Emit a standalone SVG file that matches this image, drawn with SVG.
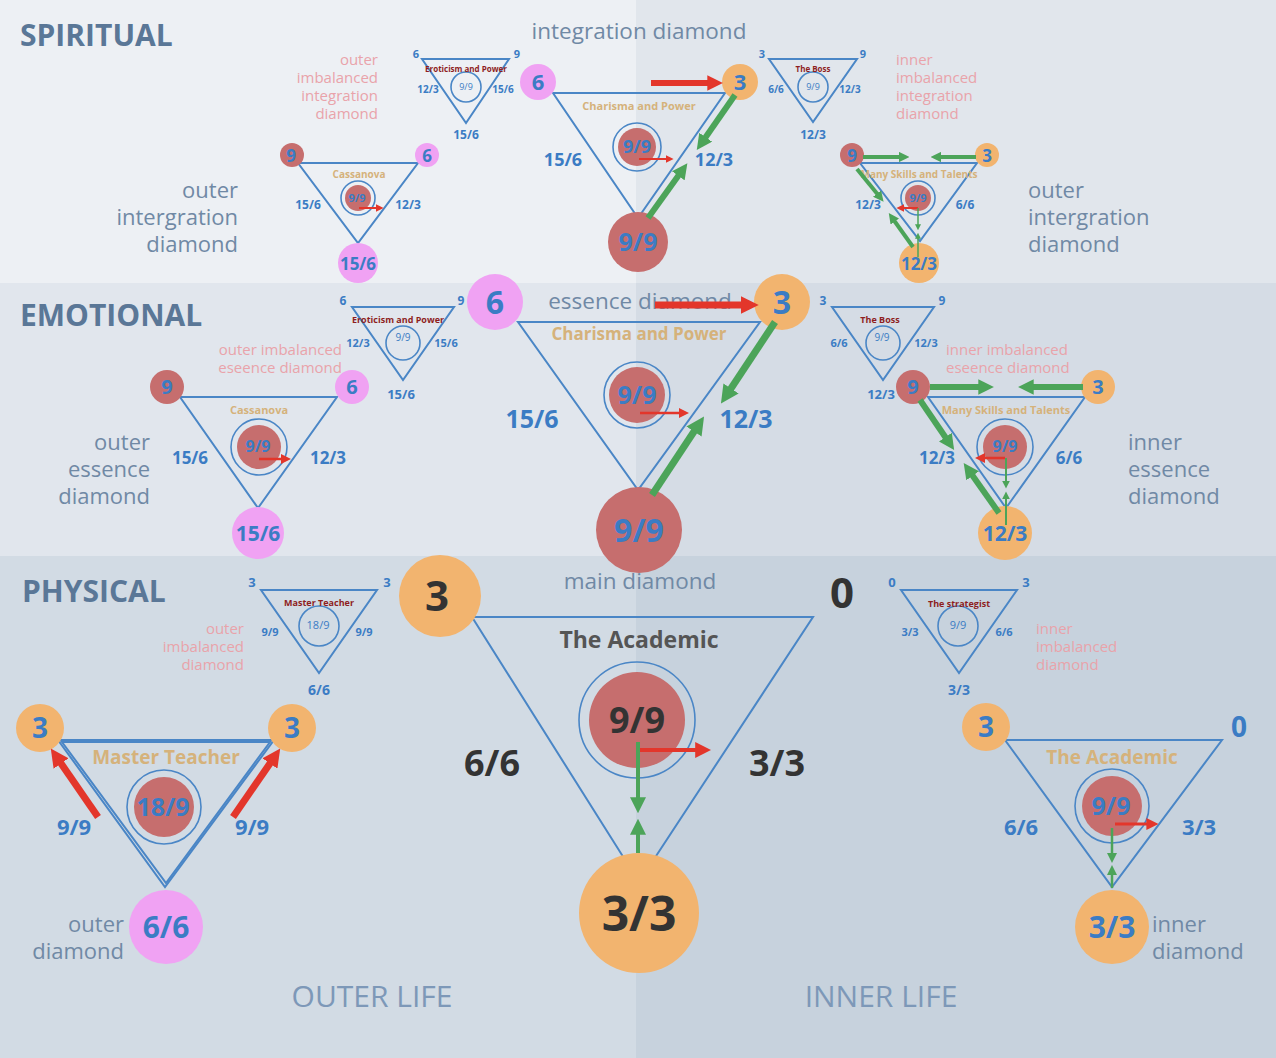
<svg xmlns="http://www.w3.org/2000/svg" width="1276" height="1058" viewBox="0 0 1276 1058">
<defs>
<style>
text{font-family:"Open Sans","Noto Sans","DejaVu Sans",sans-serif}
.sec{font-size:30px;font-weight:700;fill:#5a7797}
.hd{font-size:22.5px;fill:#7089a5;text-anchor:middle}
.side{font-size:22px;fill:#7089a5}
.faded{font-size:15px;fill:#e9a3aa}
.tri{fill:none;stroke:#4a86c6;stroke-width:2}
.ring{fill:none;stroke:#4a86c6;stroke-width:1.6}
.b{fill:#3b7cc4;font-weight:700;text-anchor:middle}
.bl{fill:#3b7cc4;text-anchor:middle}
.dk{fill:#333;font-weight:700;text-anchor:middle}
.tan{fill:#d5b27b;font-weight:700;text-anchor:middle}
.drd{fill:#8e1e1e;font-weight:700;text-anchor:middle}
.red{fill:#c66e6e}
.pink{fill:#f0a2f3}
.org{fill:#f2b46f}
.ra{stroke:#e3362b;fill:none}
.ga{stroke:#4ca459;fill:none}
.life{font-size:30px;fill:#7d98b8;text-anchor:middle}
</style>
<marker id="mr" viewBox="0 0 10 10" refX="3" refY="5" markerWidth="2.6" markerHeight="2.6" orient="auto"><path d="M0,0L10,5L0,10z" fill="#e3362b"/></marker>
<marker id="mrt" viewBox="0 0 10 10" refX="3" refY="5" markerWidth="4" markerHeight="4" orient="auto"><path d="M0,0L10,5L0,10z" fill="#e3362b"/></marker>
<marker id="mg" viewBox="0 0 10 10" refX="3" refY="5" markerWidth="2.6" markerHeight="2.6" orient="auto"><path d="M0,0L10,5L0,10z" fill="#4ca459"/></marker>
<marker id="mgt" viewBox="0 0 10 10" refX="3" refY="5" markerWidth="4" markerHeight="4" orient="auto"><path d="M0,0L10,5L0,10z" fill="#4ca459"/></marker>
</defs>

<!-- backgrounds -->
<g id="background">
<rect x="0" y="0" width="636" height="283" fill="#edf0f4"/>
<rect x="636" y="0" width="640" height="283" fill="#e1e6ec"/>
<rect x="0" y="283" width="636" height="273" fill="#e1e6ed"/>
<rect x="636" y="283" width="640" height="273" fill="#d5dce5"/>
<rect x="0" y="556" width="636" height="502" fill="#d2dbe4"/>
<rect x="636" y="556" width="640" height="502" fill="#c7d2dd"/>
</g>

<g id="labels">
<text class="sec" x="20" y="46">SPIRITUAL</text>
<text class="sec" x="20" y="326">EMOTIONAL</text>
<text class="sec" x="22" y="602">PHYSICAL</text>
<text class="hd" x="639" y="39">integration diamond</text>
<text class="hd" x="640" y="309">essence diamond</text>
<text class="hd" x="640" y="589">main diamond</text>
<g class="faded" text-anchor="end"><text x="378" y="65">outer</text><text x="378" y="83">imbalanced</text><text x="378" y="101">integration</text><text x="378" y="119">diamond</text></g>
<g class="faded"><text x="896" y="65">inner</text><text x="896" y="83">imbalanced</text><text x="896" y="101">integration</text><text x="896" y="119">diamond</text></g>
<g class="faded" text-anchor="end"><text x="342" y="355">outer imbalanced</text><text x="342" y="373">eseence diamond</text></g>
<g class="faded"><text x="946" y="355">inner imbalanced</text><text x="946" y="373">eseence diamond</text></g>
<g class="faded" text-anchor="end"><text x="244" y="634">outer</text><text x="244" y="652">imbalanced</text><text x="244" y="670">diamond</text></g>
<g class="faded"><text x="1036" y="634">inner</text><text x="1036" y="652">imbalanced</text><text x="1036" y="670">diamond</text></g>
<g class="side" text-anchor="end"><text x="238" y="198">outer</text><text x="238" y="225">intergration</text><text x="238" y="252">diamond</text></g>
<g class="side"><text x="1028" y="198">outer</text><text x="1028" y="225">intergration</text><text x="1028" y="252">diamond</text></g>
<g class="side" text-anchor="end"><text x="150" y="450">outer</text><text x="150" y="477">essence</text><text x="150" y="504">diamond</text></g>
<g class="side"><text x="1128" y="450">inner</text><text x="1128" y="477">essence</text><text x="1128" y="504">diamond</text></g>
<g class="side" text-anchor="end"><text x="124" y="932">outer</text><text x="124" y="959">diamond</text></g>
<g class="side"><text x="1152" y="932">inner</text><text x="1152" y="959">diamond</text></g>
<text class="life" x="372" y="1007">OUTER LIFE</text>
<text class="life" x="881" y="1007">INNER LIFE</text>
</g>

<!-- SPIRITUAL small triangles -->
<g id="sp-erot">
<polygon class="tri" points="422,59 509,59 466,123" stroke-width="1.5"/>
<circle class="ring" cx="466" cy="87" r="15"/>
<text class="drd" x="466" y="72" font-size="8">Eroticism and Power</text>
<text class="bl" x="466" y="90" font-size="9">9/9</text>
<g class="b" font-size="11"><text x="416" y="58">6</text><text x="517" y="58">9</text><text x="428" y="93" font-size="10">12/3</text><text x="503" y="93" font-size="10">15/6</text><text x="466" y="139" font-size="12">15/6</text></g>
</g>
<g id="sp-boss">
<polygon class="tri" points="769,59 857,59 813,122" stroke-width="1.5"/>
<circle class="ring" cx="813" cy="87" r="15"/>
<text class="drd" x="813" y="72" font-size="8">The Boss</text>
<text class="bl" x="813" y="90" font-size="9">9/9</text>
<g class="b" font-size="11"><text x="762" y="58">3</text><text x="863" y="58">9</text><text x="776" y="93" font-size="10">6/6</text><text x="850" y="93" font-size="10">12/3</text><text x="813" y="139" font-size="12">12/3</text></g>
</g>

<!-- SPIRITUAL Cassanova -->
<g id="sp-cass">
<polygon class="tri" points="298,163 418,163 358,243"/>
<text class="tan" x="359" y="178" font-size="10">Cassanova</text>
<circle class="ring" cx="358" cy="198" r="17"/>
<circle class="red" cx="358" cy="198" r="13"/>
<text class="b" x="357" y="202" font-size="11">9/9</text>
<text class="b" x="308" y="209" font-size="12">15/6</text>
<text class="b" x="408" y="209" font-size="12">12/3</text>
<circle class="red" cx="292" cy="155" r="12"/>
<text class="b" x="291" y="162" font-size="17">9</text>
<circle class="pink" cx="427" cy="155" r="12"/>
<text class="b" x="427" y="162" font-size="17">6</text>
<circle class="pink" cx="358" cy="263" r="20"/>
<text class="b" x="358" y="270" font-size="17">15/6</text>
</g>

<!-- SPIRITUAL main -->
<g id="sp-main">
<polygon class="tri" points="553,93 725,93 638,218"/>
<text class="tan" x="639" y="110" font-size="11">Charisma and Power</text>
<circle class="ring" cx="637" cy="147" r="24"/>
<circle class="red" cx="637" cy="147" r="19"/>
<text class="b" x="637" y="153" font-size="18">9/9</text>
<text class="b" x="563" y="166" font-size="18">15/6</text>
<text class="b" x="714" y="166" font-size="18">12/3</text>
<circle class="pink" cx="538" cy="82" r="18"/>
<text class="b" x="538" y="90" font-size="22">6</text>
<circle class="org" cx="740" cy="82" r="18"/>
<text class="b" x="740" y="90" font-size="22">3</text>
<circle class="red" cx="638" cy="242" r="30"/>
<text class="b" x="638" y="251" font-size="25">9/9</text>
</g>

<!-- SPIRITUAL Many Skills -->
<g id="sp-many">
<polygon class="tri" points="860,163 977,163 920,241"/>
<text class="tan" x="919" y="178" font-size="10">Many Skills and Talents</text>
<circle class="ring" cx="918" cy="198" r="17"/>
<circle class="red" cx="918" cy="198" r="13"/>
<text class="b" x="918" y="202" font-size="11">9/9</text>
<text class="b" x="868" y="209" font-size="12">12/3</text>
<text class="b" x="965" y="209" font-size="12">6/6</text>
<circle class="red" cx="852" cy="155" r="12"/>
<text class="b" x="852" y="162" font-size="17">9</text>
<circle class="org" cx="987" cy="155" r="12"/>
<text class="b" x="987" y="162" font-size="17">3</text>
<circle class="org" cx="919" cy="263" r="20"/>
<text class="b" x="919" y="270" font-size="17">12/3</text>
</g>

<!-- EMOTIONAL small triangles -->
<g id="em-erot">
<polygon class="tri" points="352,307 454,307 403,380" stroke-width="1.5"/>
<circle class="ring" cx="403" cy="343" r="17"/>
<text class="drd" x="398" y="323" font-size="9">Eroticism and Power</text>
<text class="bl" x="403" y="341" font-size="10">9/9</text>
<g class="b" font-size="12"><text x="343" y="305">6</text><text x="461" y="305">9</text><text x="358" y="347" font-size="11">12/3</text><text x="446" y="347" font-size="11">15/6</text><text x="401" y="399" font-size="13">15/6</text></g>
</g>
<g id="em-boss">
<polygon class="tri" points="832,307 934,307 883,380" stroke-width="1.5"/>
<circle class="ring" cx="883" cy="343" r="17"/>
<text class="drd" x="880" y="323" font-size="9">The Boss</text>
<text class="bl" x="882" y="341" font-size="10">9/9</text>
<g class="b" font-size="12"><text x="823" y="305">3</text><text x="942" y="305">9</text><text x="839" y="347" font-size="11">6/6</text><text x="926" y="347" font-size="11">12/3</text><text x="881" y="399" font-size="13">12/3</text></g>
</g>

<!-- EMOTIONAL Cassanova -->
<g id="em-cass">
<polygon class="tri" points="180,397 337,397 258,508"/>
<text class="tan" x="259" y="414" font-size="11">Cassanova</text>
<circle class="ring" cx="259" cy="447" r="28"/>
<circle class="red" cx="259" cy="447" r="22"/>
<text class="b" x="258" y="452" font-size="16">9/9</text>
<text class="b" x="190" y="464" font-size="17">15/6</text>
<text class="b" x="328" y="464" font-size="17">12/3</text>
<circle class="red" cx="167" cy="387" r="17"/>
<text class="b" x="167" y="394" font-size="20">9</text>
<circle class="pink" cx="352" cy="387" r="17"/>
<text class="b" x="352" y="394" font-size="20">6</text>
<circle class="pink" cx="258" cy="533" r="26"/>
<text class="b" x="258" y="541" font-size="21">15/6</text>
</g>

<!-- EMOTIONAL main -->
<g id="em-main">
<polygon class="tri" points="518,322 760,322 638,490"/>
<text class="tan" x="639" y="340" font-size="17">Charisma and Power</text>
<circle class="ring" cx="637" cy="395" r="33"/>
<circle class="red" cx="637" cy="395" r="28"/>
<text class="b" x="637" y="404" font-size="25">9/9</text>
<text class="b" x="532" y="428" font-size="25">15/6</text>
<text class="b" x="746" y="428" font-size="25">12/3</text>
<circle class="pink" cx="495" cy="302" r="28"/>
<text class="b" x="495" y="314" font-size="32">6</text>
<circle class="org" cx="782" cy="302" r="28"/>
<text class="b" x="782" y="314" font-size="32">3</text>
<circle class="red" cx="639" cy="530" r="43"/>
<text class="b" x="639" y="542" font-size="32">9/9</text>
</g>

<!-- EMOTIONAL Many Skills -->
<g id="em-many">
<polygon class="tri" points="928,397 1085,397 1006,508"/>
<text class="tan" x="1006" y="414" font-size="11">Many Skills and Talents</text>
<circle class="ring" cx="1005" cy="447" r="28"/>
<circle class="red" cx="1005" cy="447" r="22"/>
<text class="b" x="1005" y="452" font-size="16">9/9</text>
<text class="b" x="937" y="464" font-size="17">12/3</text>
<text class="b" x="1069" y="464" font-size="17">6/6</text>
<circle class="red" cx="913" cy="387" r="17"/>
<text class="b" x="913" y="394" font-size="20">9</text>
<circle class="org" cx="1098" cy="387" r="17"/>
<text class="b" x="1098" y="394" font-size="20">3</text>
<circle class="org" cx="1005" cy="533" r="27"/>
<text class="b" x="1005" y="541" font-size="21">12/3</text>
</g>

<!-- PHYSICAL small triangles -->
<g id="ph-master">
<polygon class="tri" points="261,590 377,590 319,673" stroke-width="1.5"/>
<circle class="ring" cx="319" cy="626" r="20"/>
<text class="drd" x="319" y="606" font-size="9">Master Teacher</text>
<text class="bl" x="318" y="629" font-size="11">18/9</text>
<g class="b" font-size="13"><text x="252" y="587">3</text><text x="387" y="587">3</text><text x="270" y="636" font-size="11">9/9</text><text x="364" y="636" font-size="11">9/9</text><text x="319" y="695" font-size="14">6/6</text></g>
</g>
<g id="ph-strat">
<polygon class="tri" points="901,590 1017,590 959,673" stroke-width="1.5"/>
<circle class="ring" cx="958" cy="626" r="20"/>
<text class="drd" x="959" y="607" font-size="9">The strategist</text>
<text class="bl" x="958" y="629" font-size="11">9/9</text>
<g class="b" font-size="13"><text x="892" y="587">0</text><text x="1026" y="587">3</text><text x="910" y="636" font-size="11">3/3</text><text x="1004" y="636" font-size="11">6/6</text><text x="959" y="695" font-size="14">3/3</text></g>
</g>

<!-- PHYSICAL main -->
<g id="ph-main">
<polygon class="tri" points="472,617 813,617 639,882" stroke-width="3"/>
<text x="639" y="648" font-size="23" font-weight="700" fill="#555" text-anchor="middle">The Academic</text>
<circle class="ring" cx="637" cy="720" r="58" stroke-width="2.5"/>
<circle class="red" cx="637" cy="720" r="48"/>
<text class="dk" x="637" y="733" font-size="36">9/9</text>
<text class="dk" x="492" y="776" font-size="36">6/6</text>
<text class="dk" x="777" y="776" font-size="36">3/3</text>
<circle class="org" cx="440" cy="596" r="41"/>
<text class="dk" x="437" y="611" font-size="42">3</text>
<text class="dk" x="842" y="608" font-size="42">0</text>
<circle class="org" cx="639" cy="913" r="60"/>
<text class="dk" x="639" y="931" font-size="48">3/3</text>
</g>

<!-- PHYSICAL left Master Teacher -->
<g id="ph-left">
<polygon class="tri" points="58,740 274,740 165,887"/>
<polygon class="tri" points="62,742 270,742 166,883" stroke-width="1"/>
<text class="tan" x="166" y="764" font-size="19">Master Teacher</text>
<circle class="ring" cx="164" cy="807" r="37"/>
<circle class="red" cx="164" cy="807" r="30"/>
<text class="b" x="163" y="816" font-size="25">18/9</text>
<text class="b" x="74" y="835" font-size="22">9/9</text>
<text class="b" x="252" y="835" font-size="22">9/9</text>
<circle class="org" cx="40" cy="728" r="24"/>
<text class="b" x="40" y="738" font-size="28">3</text>
<circle class="org" cx="292" cy="728" r="24"/>
<text class="b" x="292" y="738" font-size="28">3</text>
<circle class="pink" cx="166" cy="927" r="37"/>
<text class="b" x="166" y="938" font-size="30">6/6</text>
</g>

<!-- PHYSICAL right Academic -->
<g id="ph-right">
<polygon class="tri" points="1005,740 1222,740 1112,887"/>
<text class="tan" x="1112" y="764" font-size="19">The Academic</text>
<circle class="ring" cx="1112" cy="806" r="37"/>
<circle class="red" cx="1112" cy="806" r="30"/>
<text class="b" x="1111" y="815" font-size="25">9/9</text>
<text class="b" x="1021" y="835" font-size="22">6/6</text>
<text class="b" x="1199" y="835" font-size="22">3/3</text>
<circle class="org" cx="986" cy="727" r="24"/>
<text class="b" x="986" y="737" font-size="28">3</text>
<text class="b" x="1239" y="737" font-size="28">0</text>
<circle class="org" cx="1112" cy="927" r="37"/>
<text class="b" x="1112" y="938" font-size="30">3/3</text>
</g>

<!-- connectors / arrows -->
<g id="connectors">
<!-- spiritual -->
<line class="ra" x1="359" y1="208" x2="378" y2="208" stroke-width="2" marker-end="url(#mrt)"/>
<line class="ra" x1="651" y1="83" x2="712" y2="83" stroke-width="6" marker-end="url(#mr)"/>
<line class="ra" x1="639" y1="159" x2="668" y2="159" stroke-width="2" marker-end="url(#mrt)"/>
<line class="ga" x1="735" y1="95" x2="703" y2="141" stroke-width="6" marker-end="url(#mg)"/>
<line class="ga" x1="648" y1="218" x2="681" y2="172" stroke-width="6" marker-end="url(#mg)"/>
<line class="ga" x1="863" y1="157" x2="902" y2="157" stroke-width="4" marker-end="url(#mg)"/>
<line class="ga" x1="976" y1="157" x2="938" y2="157" stroke-width="4" marker-end="url(#mg)"/>
<line class="ga" x1="857" y1="169" x2="879" y2="196" stroke-width="4" marker-end="url(#mg)"/>
<line class="ga" x1="913" y1="247" x2="893" y2="219" stroke-width="4" marker-end="url(#mg)"/>
<line class="ra" x1="918" y1="208" x2="902" y2="208" stroke-width="2" marker-end="url(#mrt)"/>
<line class="ga" x1="918" y1="208" x2="918" y2="226" stroke-width="1.5" marker-end="url(#mgt)"/>
<line class="ga" x1="918" y1="257" x2="918" y2="237" stroke-width="1.5" marker-end="url(#mgt)"/>
<!-- emotional -->
<line class="ra" x1="259" y1="459" x2="284" y2="459" stroke-width="2.5" marker-end="url(#mrt)"/>
<line class="ra" x1="655" y1="305" x2="746" y2="305" stroke-width="7" marker-end="url(#mr)"/>
<line class="ra" x1="640" y1="413" x2="682" y2="413" stroke-width="2.5" marker-end="url(#mrt)"/>
<line class="ga" x1="775" y1="322" x2="728" y2="393" stroke-width="7" marker-end="url(#mg)"/>
<line class="ga" x1="652" y1="495" x2="697" y2="427" stroke-width="7" marker-end="url(#mg)"/>
<line class="ga" x1="930" y1="387" x2="983" y2="387" stroke-width="6" marker-end="url(#mg)"/>
<line class="ga" x1="1083" y1="387" x2="1029" y2="387" stroke-width="6" marker-end="url(#mg)"/>
<line class="ga" x1="920" y1="400" x2="948" y2="441" stroke-width="6" marker-end="url(#mg)"/>
<line class="ga" x1="999" y1="513" x2="970" y2="472" stroke-width="6" marker-end="url(#mg)"/>
<line class="ra" x1="1005" y1="458" x2="982" y2="458" stroke-width="2.5" marker-end="url(#mrt)"/>
<line class="ga" x1="1006" y1="458" x2="1006" y2="483" stroke-width="2" marker-end="url(#mgt)"/>
<line class="ga" x1="1006" y1="525" x2="1006" y2="497" stroke-width="2" marker-end="url(#mgt)"/>
<!-- physical -->
<line class="ra" x1="640" y1="750" x2="700" y2="750" stroke-width="4" marker-end="url(#mrt)"/>
<line class="ga" x1="638" y1="742" x2="638" y2="802" stroke-width="4" marker-end="url(#mgt)"/>
<line class="ga" x1="638" y1="853" x2="638" y2="830" stroke-width="4" marker-end="url(#mgt)"/>
<line class="ra" x1="98" y1="817" x2="58" y2="759" stroke-width="7" marker-end="url(#mr)"/>
<line class="ra" x1="233" y1="817" x2="273" y2="759" stroke-width="7" marker-end="url(#mr)"/>
<line class="ra" x1="1115" y1="824" x2="1150" y2="824" stroke-width="3" marker-end="url(#mrt)"/>
<line class="ga" x1="1112" y1="828" x2="1112" y2="856" stroke-width="2.5" marker-end="url(#mgt)"/>
<line class="ga" x1="1112" y1="888" x2="1112" y2="872" stroke-width="2.5" marker-end="url(#mgt)"/>
</g>
</svg>
